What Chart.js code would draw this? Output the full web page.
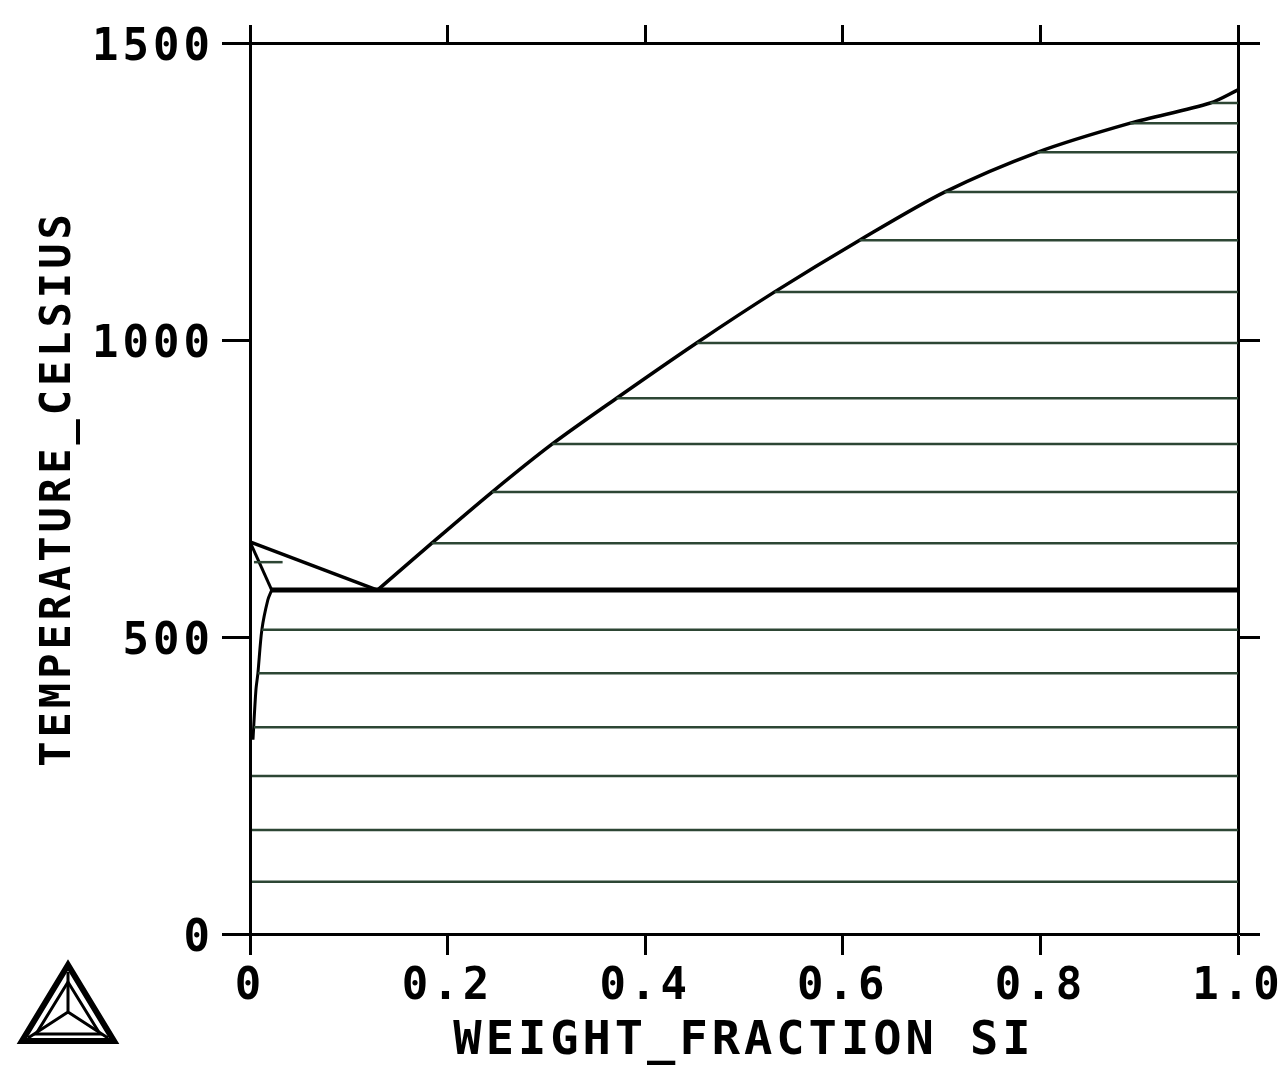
<!DOCTYPE html>
<html>
<head>
<meta charset="utf-8">
<script src="https://cdn.jsdelivr.net/npm/chart.js@4.4.1/dist/chart.umd.min.js"></script>
<style>
  body { margin: 0; background: #fff; }
  #wrap { width: 1286px; height: 1070px; }
</style>
</head>
<body>
<div id="wrap"><canvas id="chartfase" width="1286" height="1070"></canvas></div>
<script>
// Al-Si diagram, values
const alLiquidusW = [0, 0.129]
const alLiquidusT = [660, 579]

const alSolidusW = [0, 0.022]
const alSolidusT = [660, 579]

const solvusW = [0.022, 0.018, 0.012, 0.008, 0.006, 0.003]
const solvusT = [579, 562, 512, 439, 411, 327]

const siLiquidusW = [0.129, 0.184, 0.245, 0.306, 0.371, 0.452, 0.531, 0.617, 0.703, 0.797, 0.891, 0.972, 1.0]
const siLiquidusT = [579, 658, 744, 825, 902, 995, 1081, 1168, 1249, 1316, 1365, 1399, 1421]

const eutecticW = [0.022, 1.0]
const eutecticT = [579, 579]

// tie lines in L + Al
const alTieStart = [0.004]
const alTieEnd = [0.033]
const alTieT = [626]

// tie lines in Al + Si (solid)
const solidTieStart = [0.012, 0.008, 0.004, 0.002, 0.002, 0.002]
const solidTieT = [512, 439, 348, 266, 175, 88]

const xTicks = [0, 0.2, 0.4, 0.6, 0.8, 1.0]
const yTicks = [0, 500, 1000, 1500]

const negro = '#000000'
const verde = '#2d4634'
const fuente = "'DejaVu Sans Mono', monospace"

const pares = (ws, ts) => ws.map((w, i) => ({ x: w, y: ts[i] }))

const linea = (data, color, ancho, suave) => ({
    data: data,
    showLine: true,
    borderColor: color,
    borderWidth: ancho,
    pointRadius: 0,
    fill: false,
    tension: suave ? 0.3 : 0
})

const datasets = []

// tie lines first so the curves sit on top
siLiquidusT.forEach((t, i) => {
    if (i === 0 || i === siLiquidusT.length - 1) return
    datasets.push(linea([{ x: siLiquidusW[i], y: t }, { x: 1, y: t }], verde, 2.5))
})
solidTieT.forEach((t, i) => {
    datasets.push(linea([{ x: solidTieStart[i], y: t }, { x: 1, y: t }], verde, 2.5))
})
alTieT.forEach((t, i) => {
    datasets.push(linea([{ x: alTieStart[i], y: t }, { x: alTieEnd[i], y: t }], verde, 2.5))
})

datasets.push(linea(pares(alLiquidusW, alLiquidusT), negro, 3.5))
datasets.push(linea(pares(alSolidusW, alSolidusT), negro, 3))
datasets.push(linea(pares(solvusW, solvusT), negro, 3, true))
datasets.push(linea(pares(siLiquidusW, siLiquidusT), negro, 3.5, true))
datasets.push(linea(pares(eutecticW, eutecticT), negro, 5))

const espaciado = {
    id: 'espaciado',
    beforeDraw(chart) {
        chart.ctx.letterSpacing = '4px'
    }
}

// Thermo-Calc style logo in the lower left corner
const logo = {
    id: 'logo',
    afterDraw(chart) {
        const ctx = chart.ctx
        ctx.save()
        ctx.strokeStyle = negro
        ctx.lineJoin = 'miter'
        ctx.lineWidth = 6
        ctx.beginPath()
        ctx.moveTo(68, 965)
        ctx.lineTo(22, 1041)
        ctx.lineTo(114, 1041)
        ctx.closePath()
        ctx.stroke()
        ctx.lineWidth = 3
        ctx.beginPath()
        ctx.moveTo(68, 982)
        ctx.lineTo(36, 1034)
        ctx.lineTo(100, 1034)
        ctx.closePath()
        ctx.stroke()
        ctx.beginPath()
        ctx.moveTo(68, 972); ctx.lineTo(68, 1012)
        ctx.moveTo(68, 1012); ctx.lineTo(28, 1038)
        ctx.moveTo(68, 1012); ctx.lineTo(108, 1038)
        ctx.stroke()
        ctx.restore()
    }
}

const ejeX = (pos, alto, mostrar, largo) => ({
    type: 'linear',
    position: pos,
    min: 0,
    max: 1,
    afterBuildTicks: s => { s.ticks = xTicks.map(v => ({ value: v })) },
    afterFit: s => { s.height = alto },
    grid: { drawOnChartArea: false, drawTicks: true, tickLength: largo, tickWidth: 3, tickColor: negro },
    border: { display: true, color: negro, width: 3 },
    ticks: {
        display: mostrar,
        color: negro,
        padding: 6,
        font: { family: fuente, size: 44, weight: 'bold' },
        callback: v => v === 0 ? '0' : v.toFixed(1)
    }
})

// the empty first line pushes each label a few pixels down, like the plotter output
const ejeY = (pos, ancho, mostrar, largo) => ({
    type: 'linear',
    position: pos,
    min: 0,
    max: 1500,
    afterBuildTicks: s => { s.ticks = yTicks.map(v => ({ value: v })) },
    afterFit: s => { s.width = ancho },
    grid: { drawOnChartArea: false, drawTicks: true, tickLength: largo, tickWidth: 3, tickColor: negro },
    border: { display: true, color: negro, width: 3 },
    ticks: {
        display: mostrar,
        color: negro,
        padding: 8,
        font: { family: fuente, size: 44, weight: 'bold', lineHeight: '12px' },
        callback: v => ['', String(v)]
    }
})

const escalas = {
    x: ejeX('bottom', 136, true, 21),
    x2: ejeX('top', 43, false, 18),
    y: ejeY('left', 250, true, 28),
    y2: ejeY('right', 48, false, 22)
}
escalas.x.title = {
    display: true,
    text: 'WEIGHT_FRACTION SI',
    color: negro,
    font: { family: fuente, size: 47, weight: 'bold' },
    padding: { top: 0, bottom: 0 }
}
escalas.y.title = {
    display: true,
    text: 'TEMPERATURE_CELSIUS',
    color: negro,
    font: { family: fuente, size: 42, weight: 'bold' },
    padding: { top: 34, bottom: 0 }
}

const canvas = document.getElementById('chartfase')
const context = canvas.getContext('2d')

const chartFase = new Chart(context, {
    type: 'scatter',
    data: { datasets: datasets },
    options: {
        responsive: false,
        animation: false,
        layout: { padding: 0 },
        plugins: {
            legend: { display: false },
            tooltip: { enabled: false }
        },
        scales: escalas
    },
    plugins: [espaciado, logo]
})
</script>
</body>
</html>
